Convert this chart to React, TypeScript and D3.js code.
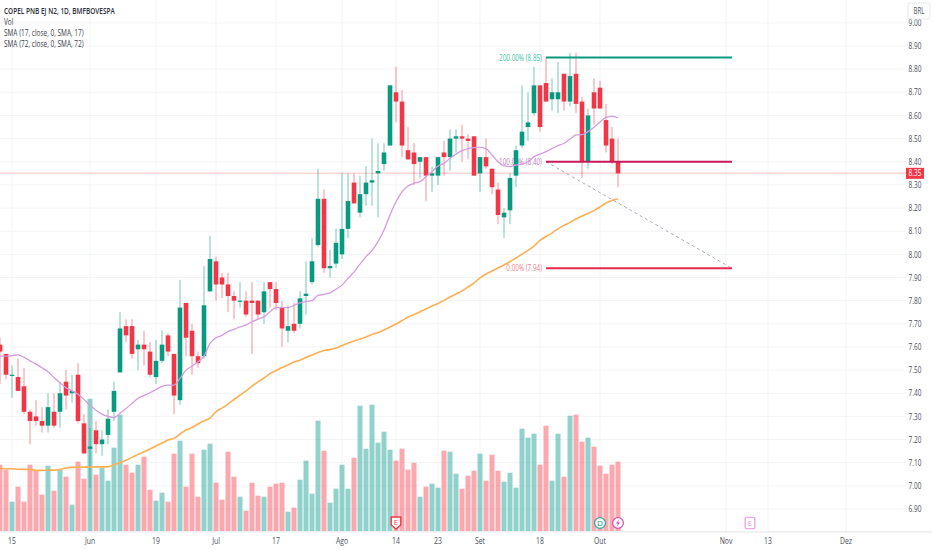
import * as d3 from "d3";

const WIDTH = 932;
const HEIGHT = 550;
const FONT = "'Open Sans', 'Noto Sans', sans-serif";

const UP = "#089981";
const DOWN = "#f23645";
const GRID = "#f3f4f6";
const TEXT = "#4a4e59";
// the reference's lettering is narrow, about 0.72 of normal width
const TEXT_SQUEEZE = 0.72;

const opens = [
  7.61, 7.57, 7.48, 7.47, 7.43, 7.32, 7.3, 7.28, 7.26, 7.32,
  7.32, 7.45, 7.4, 7.48, 7.27, 7.16, 7.24, 7.18, 7.22, 7.32,
  7.49, 7.69, 7.69, 7.59, 7.61, 7.58, 7.47, 7.54, 7.65, 7.57,
  7.37, 7.79, 7.67, 7.56, 7.56, 7.84, 7.97, 7.9, 7.87, 7.82,
  7.8, 7.8, 7.8, 7.8, 7.75, 7.88, 7.85, 7.77, 7.67, 7.7,
  7.7, 7.82, 7.88, 8.04, 8.24, 7.94, 7.96, 8.0, 8.11, 8.31,
  8.18, 8.26, 8.31, 8.35, 8.39, 8.47, 8.7, 8.66, 8.45, 8.44,
  8.4, 8.42, 8.34, 8.34, 8.44, 8.42, 8.5, 8.51, 8.5, 8.51,
  8.35, 8.42, 8.37, 8.28, 8.16, 8.19, 8.34, 8.47, 8.55, 8.61,
  8.73, 8.74, 8.67, 8.67, 8.78, 8.66, 8.78, 8.66, 8.4, 8.7,
  8.72, 8.58, 8.5, 8.4,
];
const closes = [
  7.58, 7.48, 7.48, 7.41, 7.32, 7.28, 7.28, 7.26, 7.34, 7.26,
  7.4, 7.39, 7.41, 7.28, 7.14, 7.17, 7.18, 7.2, 7.29, 7.41,
  7.68, 7.65, 7.57, 7.61, 7.59, 7.48, 7.54, 7.61, 7.58, 7.39,
  7.77, 7.64, 7.56, 7.53, 7.78, 7.98, 7.87, 7.87, 7.82, 7.8,
  7.8, 7.74, 7.79, 7.74, 7.84, 7.85, 7.79, 7.68, 7.69, 7.67,
  7.81, 7.83, 7.97, 8.24, 7.94, 7.95, 8.05, 8.11, 8.23, 8.22,
  8.26, 8.31, 8.32, 8.36, 8.44, 8.73, 8.66, 8.47, 8.41, 8.39,
  8.42, 8.34, 8.35, 8.42, 8.42, 8.5, 8.51, 8.5, 8.49, 8.34,
  8.42, 8.38, 8.29, 8.17, 8.18, 8.33, 8.45, 8.53, 8.57, 8.73,
  8.55, 8.66, 8.7, 8.7, 8.66, 8.77, 8.65, 8.4, 8.6, 8.63,
  8.63, 8.47, 8.4, 8.35,
];
const highs = [
  7.64, 7.57, 7.52, 7.55, 7.51, 7.33, 7.37, 7.34, 7.4, 7.4,
  7.45, 7.5, 7.48, 7.53, 7.31, 7.25, 7.28, 7.24, 7.33, 7.45,
  7.75, 7.72, 7.72, 7.63, 7.67, 7.62, 7.63, 7.67, 7.66, 7.57,
  7.89, 7.79, 7.7, 7.58, 7.95, 8.08, 7.99, 7.92, 7.92, 7.84,
  7.88, 7.84, 7.88, 7.8, 7.88, 7.88, 7.88, 7.8, 7.78, 7.79,
  7.84, 7.97, 8.07, 8.37, 8.28, 8.02, 8.11, 8.35, 8.35, 8.35,
  8.34, 8.38, 8.5, 8.48, 8.48, 8.73, 8.81, 8.71, 8.55, 8.48,
  8.42, 8.42, 8.38, 8.42, 8.49, 8.54, 8.54, 8.56, 8.52, 8.51,
  8.42, 8.5, 8.37, 8.31, 8.2, 8.35, 8.47, 8.73, 8.7, 8.81,
  8.73, 8.85, 8.76, 8.83, 8.78, 8.87, 8.87, 8.68, 8.63, 8.76,
  8.75, 8.65, 8.55, 8.5,
];
const lows = [
  7.44, 7.46, 7.38, 7.41, 7.31, 7.18, 7.26, 7.23, 7.23, 7.25,
  7.25, 7.33, 7.36, 7.27, 7.14, 6.99, 7.14, 7.13, 7.18, 7.28,
  7.49, 7.62, 7.55, 7.5, 7.52, 7.47, 7.44, 7.53, 7.56, 7.31,
  7.35, 7.56, 7.48, 7.51, 7.55, 7.84, 7.8, 7.81, 7.75, 7.72,
  7.77, 7.73, 7.57, 7.72, 7.7, 7.77, 7.76, 7.6, 7.62, 7.66,
  7.68, 7.74, 7.87, 8.03, 7.92, 7.9, 7.94, 7.98, 8.07, 8.22,
  8.16, 8.21, 8.21, 8.16, 8.36, 8.47, 8.57, 8.42, 8.41, 8.3,
  8.33, 8.23, 8.27, 8.3, 8.34, 8.36, 8.44, 8.4, 8.41, 8.34,
  8.27, 8.37, 8.26, 8.13, 8.07, 8.13, 8.29, 8.46, 8.49, 8.6,
  8.53, 8.66, 8.62, 8.61, 8.62, 8.64, 8.61, 8.33, 8.37, 8.56,
  8.63, 8.44, 8.39, 8.29,
];
const volumes = [
  67, 62, 30, 45, 30, 67, 61, 37, 66, 41,
  62, 55, 27, 70, 53, 133, 57, 64, 51, 84,
  117, 67, 59, 67, 75, 42, 31, 39, 30, 78,
  91, 45, 78, 35, 82, 88, 49, 32, 80, 55,
  35, 21, 49, 36, 35, 45, 48, 49, 20, 24,
  52, 71, 38, 111, 81, 29, 43, 67, 43, 74,
  126, 83, 127, 89, 100, 82, 71, 83, 62, 69,
  35, 45, 48, 44, 81, 80, 58, 43, 56, 61,
  78, 51, 77, 61, 50, 59, 44, 103, 94, 98,
  67, 106, 51, 98, 55, 116, 117, 90, 94, 85,
  66, 58, 67, 70,
];
const sma17 = [
  7.56, 7.56, 7.563, 7.566, 7.555, 7.54, 7.526, 7.51, 7.493, 7.468,
  7.445, 7.424, 7.41, 7.396, 7.373, 7.349, 7.327, 7.31, 7.3, 7.295,
  7.313, 7.334, 7.356, 7.378, 7.39, 7.402, 7.416, 7.43, 7.435, 7.435,
  7.464, 7.5, 7.517, 7.536, 7.56, 7.615, 7.64, 7.65, 7.666, 7.676,
  7.687, 7.695, 7.709, 7.72, 7.73, 7.752, 7.77, 7.77, 7.77, 7.78,
  7.79, 7.797, 7.8, 7.823, 7.827, 7.834, 7.849, 7.867, 7.896, 7.924,
  7.958, 7.99, 8.016, 8.055, 8.105, 8.17, 8.227, 8.27, 8.295, 8.307,
  8.314, 8.336, 8.357, 8.382, 8.393, 8.415, 8.433, 8.448, 8.457, 8.461,
  8.462, 8.457, 8.429, 8.4, 8.382, 8.379, 8.386, 8.39, 8.4, 8.422,
  8.433, 8.444, 8.457, 8.47, 8.48, 8.498, 8.516, 8.517, 8.53, 8.549,
  8.572, 8.592, 8.596, 8.59,
];
const sma72 = [
  7.075, 7.074, 7.074, 7.072, 7.071, 7.071, 7.067, 7.067, 7.068, 7.068,
  7.071, 7.077, 7.08, 7.081, 7.081, 7.081, 7.082, 7.082, 7.082, 7.091,
  7.1, 7.111, 7.123, 7.136, 7.147, 7.159, 7.172, 7.185, 7.198, 7.205,
  7.224, 7.241, 7.252, 7.267, 7.281, 7.293, 7.32, 7.336, 7.353, 7.373,
  7.392, 7.41, 7.431, 7.449, 7.466, 7.485, 7.498, 7.511, 7.522, 7.535,
  7.543, 7.554, 7.565, 7.576, 7.585, 7.589, 7.595, 7.606, 7.617, 7.626,
  7.634, 7.643, 7.654, 7.662, 7.673, 7.686, 7.699, 7.714, 7.729, 7.74,
  7.752, 7.764, 7.777, 7.788, 7.801, 7.816, 7.829, 7.842, 7.859, 7.876,
  7.898, 7.915, 7.928, 7.941, 7.954, 7.969, 7.984, 8.001, 8.017, 8.036,
  8.06, 8.077, 8.092, 8.11, 8.125, 8.138, 8.153, 8.166, 8.176, 8.189,
  8.205, 8.222, 8.233, 8.239,
];

const timeTicks = ["15", "Jun", "19", "Jul", "17", "Ago", "14", "23", "Set", "18", "Out", "Nov", "13", "Dez"];
const timeTickIndex = [2, 15, 26, 36, 46, 57, 66, 73, 80, 90, 100, 121, 128, 141];
const priceTicks = d3.range(690, 901, 10).map((d) => d / 100);
const legendLines = ["Vol", "SMA (17, close, 0, SMA, 17)", "SMA (72, close, 0, SMA, 72)"];

const fibLevels = [
  { price: 8.85, label: "200.00% (8.85)", line: "#089981", text: "#3fbfa5" },
  { price: 8.4, label: "100.00% (8.40)", line: "#c9185b", text: "#c77fc0" },
  { price: 7.94, label: "0.00% (7.94)", line: "#e8284f", text: "#ee7f8d" },
];
const FIB_START = 91;
const FIB_END = 122;
const LAST_PRICE = 8.35;

const x = d3.scaleLinear().domain([0, 151]).range([0, 906]);
const y = d3.scaleLinear().domain([6.9, 8.9]).range([509, 46]);
const yVol = d3.scaleLinear().domain([0, 133]).range([531.7, 398.7]);

const linePath = (values: number[]) =>
  d3
    .line<number>()
    .x((_, i) => x(i))
    .y((d) => y(d))
    .curve(d3.curveMonotoneX)(values) ?? "";

type LabelProps = {
  x: number;
  y: number;
  anchor?: "start" | "middle" | "end";
  size: number;
  fill: string;
  weight?: number;
  children: string;
};

const Label = ({ x: lx, y: ly, anchor = "start", size, fill, weight, children }: LabelProps) => (
  <text
    transform={`translate(${lx},${ly}) scale(${TEXT_SQUEEZE},1)`}
    dy="0.35em"
    textAnchor={anchor}
    fontSize={size}
    fontWeight={weight}
    fill={fill}
  >
    {children}
  </text>
);

export default function App() {
  const bodyW = 4.6;
  const volW = 5;

  return (
    <svg
      width={WIDTH}
      height={HEIGHT}
      style={{ position: "absolute", left: 0, top: 0, background: "#fff" }}
      fontFamily={FONT}
    >
      {/* grid */}
      {priceTicks.map((p) => (
        <line key={p} x1={0} x2={906} y1={y(p)} y2={y(p)} stroke={GRID} />
      ))}
      {timeTickIndex.map((t) => (
        <line key={t} x1={x(t)} x2={x(t)} y1={0} y2={531} stroke={GRID} />
      ))}

      {/* volume */}
      {volumes.map((v, i) => (
        <rect
          key={i}
          x={x(i) - volW / 2}
          y={yVol(v)}
          width={volW}
          height={yVol(0) - yVol(v)}
          fill={closes[i] >= opens[i] ? "#26a69a" : "#f7525f"}
          fillOpacity={0.5}
        />
      ))}

      {/* last price line */}
      <line x1={0} x2={906} y1={y(LAST_PRICE)} y2={y(LAST_PRICE)} stroke="#f23645" strokeOpacity={0.22} strokeWidth={1.5} />

      {/* fib labels sit under the candles */}
      {fibLevels.map((f) => (
        <Label key={f.label} x={x(FIB_START) - 4} y={y(f.price)} anchor="end" size={8.8} fill={f.text}>
          {f.label}
        </Label>
      ))}

      {/* candles */}
      {opens.map((o, i) => {
        const c = closes[i];
        const color = c >= o ? UP : DOWN;
        const top = y(Math.max(o, c));
        const bottom = y(Math.min(o, c));
        return (
          <g key={i}>
            <line x1={x(i)} x2={x(i)} y1={y(highs[i])} y2={y(lows[i])} stroke={color} strokeOpacity={0.55} />
            <rect x={x(i) - bodyW / 2} y={top} width={bodyW} height={Math.max(bottom - top, 1.2)} fill={color} />
          </g>
        );
      })}

      {/* moving averages */}
      <path d={linePath(sma17)} fill="none" stroke="#d49be0" strokeWidth={1.3} />
      <path d={linePath(sma72)} fill="none" stroke="#ffae52" strokeWidth={1.6} />

      {/* fib lines */}
      <line
        x1={x(FIB_START)}
        x2={x(FIB_END)}
        y1={y(8.4)}
        y2={y(7.94)}
        stroke="#a9acb5"
        strokeWidth={1}
        strokeDasharray="3 3"
      />
      {fibLevels.map((f) => (
        <line key={f.price} x1={x(FIB_START)} x2={x(FIB_END)} y1={y(f.price)} y2={y(f.price)} stroke={f.line} strokeWidth={2} />
      ))}

      {/* event markers */}
      <g transform={`translate(${x(66)},516.5)`}>
        <path d="M-4.8,0.5H4.8V8.5L0,12.5L-4.8,8.5Z" fill="#fff" stroke={DOWN} strokeWidth={1.4} />
        <text y={8.6} textAnchor="middle" fontSize={8} fill={DOWN}>E</text>
      </g>
      <g transform={`translate(${x(100)},523)`}>
        <circle r={5.4} fill="#fff" stroke={UP} strokeOpacity={0.75} strokeWidth={1.3} />
        <text y={2.9} textAnchor="middle" fontSize={8} fill={UP}>D</text>
      </g>
      <g transform={`translate(${x(103)},523)`}>
        <circle r={5.4} fill="#fff" stroke="#cf3fb4" strokeOpacity={0.85} strokeWidth={1.3} />
        <path d="M1,-3.6L-2,0.6H0L-1,3.6L2,-0.6H0Z" fill="#cf3fb4" />
      </g>
      <g transform={`translate(${x(125)},523)`}>
        <rect x={-4.8} y={-5.6} width={9.6} height={11.2} rx={1} fill="#fff" stroke="#f0a6df" strokeWidth={1.4} />
        <text y={2.9} textAnchor="middle" fontSize={8} fill="#eb8fd4">E</text>
      </g>

      {/* legend */}
      <Label x={4} y={11} size={9} weight={600} fill="#2a2e39">COPEL PNB EJ N2, 1D, BMFBOVESPA</Label>
      {legendLines.map((t, i) => (
        <Label key={t} x={4} y={22 + i * 11} size={9} fill="#3c404b">{t}</Label>
      ))}

      {/* time axis */}
      <line x1={0} x2={WIDTH} y1={531.8} y2={531.8} stroke="#eceef1" strokeWidth={1.5} />
      {timeTicks.map((t, i) => (
        <Label key={t} x={x(timeTickIndex[i])} y={541} anchor="middle" size={9.5} fill={TEXT}>{t}</Label>
      ))}

      {/* price axis */}
      {priceTicks.map((p) => (
        <Label key={p} x={915} y={y(p)} anchor="middle" size={9} fill={TEXT}>{p.toFixed(2)}</Label>
      ))}
      <rect x={906} y={y(LAST_PRICE) - 5.5} width={18} height={11} fill={DOWN} />
      <Label x={915} y={y(LAST_PRICE)} anchor="middle" size={9} fill="#fff">{LAST_PRICE.toFixed(2)}</Label>
      <rect x={908} y={3} width={22} height={16} rx={2.5} fill="#fff" stroke="#e6e8ec" />
      <Label x={919} y={11} anchor="middle" size={8.5} fill={TEXT}>BRL</Label>
    </svg>
  );
}
